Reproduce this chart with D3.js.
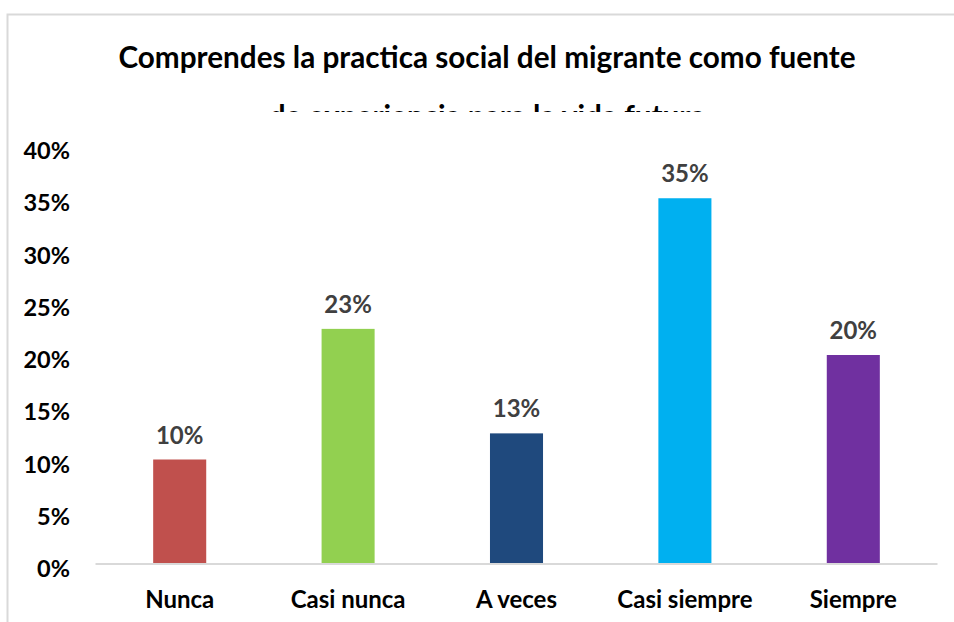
<!DOCTYPE html>
<html lang="es">
<head>
  <meta charset="UTF-8">
  <title>Comprendes la practica social del migrante</title>
  <style>
    html,
    body {
      margin: 0;
      padding: 0;
      background: #fff;
    }

    svg text {
      font-family: Lato, "Open Sans", sans-serif;
      font-weight: bold;
    }
  </style>
</head>
<body>
<div id="chart"></div>

<script src="https://d3js.org/d3.v7.min.js"></script>
<script>
  // values
  const categories = ['Nunca', 'Casi nunca', 'A veces', 'Casi siempre', 'Siempre'];
  const values = [0.10, 0.225, 0.125, 0.35, 0.20];
  const valueLabels = ['10%', '23%', '13%', '35%', '20%'];
  const barColors = ['#C0504D', '#92D050', '#1F497D', '#00B0F0', '#7030A0'];
  const yTicks = [0, 0.05, 0.10, 0.15, 0.20, 0.25, 0.30, 0.35, 0.40];
  const titleLines = [
    'Comprendes la practica social del migrante como fuente',
    'de experiencia para la vida futura'
  ];

  const width = 954;
  const height = 622;

  const svg = d3.select('#chart')
    .append('svg')
    .attr('width', width)
    .attr('height', height);

  // outer frame (only top and left edges are visible)
  svg.append('path')
    .attr('d', 'M7.5,622 V14.5 H954')
    .attr('fill', 'none')
    .attr('stroke', '#d9d9d9')
    .attr('stroke-width', 2);

  const x = d3.scaleBand()
    .domain(categories)
    .range([95.5, 937.5])
    .paddingInner(0.685)
    .paddingOuter(0.3425);

  const y = d3.scaleLinear()
    .domain([0, 0.40])
    .range([564, 146]);

  // title, second line cut off like in the original
  svg.append('clipPath')
    .attr('id', 'title-clip')
    .append('rect')
    .attr('x', 0)
    .attr('y', 0)
    .attr('width', width)
    .attr('height', 112);

  svg.append('g')
    .attr('clip-path', 'url(#title-clip)')
    .selectAll('text')
    .data(titleLines)
    .join('text')
    .attr('x', 487)
    .attr('y', (d, i) => 68 + i * 59)
    .attr('text-anchor', 'middle')
    .attr('font-size', 29.7)
    .attr('fill', '#000')
    .text(d => d);

  // y axis labels, no line
  const yAxis = d3.axisLeft(y)
    .tickValues(yTicks)
    .tickFormat(d3.format('.0%'))
    .tickSize(0)
    .tickPadding(0);

  svg.append('g')
    .attr('transform', 'translate(70,5)')
    .call(yAxis)
    .call(g => g.select('.domain').remove())
    .call(g => g.selectAll('text')
      .attr('font-size', 23.5)
      .attr('font-family', null)
      .attr('fill', '#000'));

  // bars
  svg.append('g')
    .selectAll('rect')
    .data(values)
    .join('rect')
    .attr('x', (d, i) => x(categories[i]))
    .attr('y', d => y(d))
    .attr('width', x.bandwidth())
    .attr('height', d => y(0) - y(d))
    .attr('fill', (d, i) => barColors[i]);

  // baseline
  svg.append('line')
    .attr('x1', 95.5)
    .attr('x2', 937.5)
    .attr('y1', y(0))
    .attr('y2', y(0))
    .attr('stroke', '#d9d9d9')
    .attr('stroke-width', 2);

  // value labels
  svg.append('g')
    .selectAll('text')
    .data(values)
    .join('text')
    .attr('x', (d, i) => x(categories[i]) + x.bandwidth() / 2)
    .attr('y', d => y(d) - 16)
    .attr('text-anchor', 'middle')
    .attr('font-size', 24)
    .attr('fill', '#404040')
    .text((d, i) => valueLabels[i]);

  // category labels
  const xAxis = d3.axisBottom(x)
    .tickSize(0)
    .tickPadding(0);

  svg.append('g')
    .attr('transform', `translate(0,${y(0)})`)
    .call(xAxis)
    .call(g => g.select('.domain').remove())
    .call(g => g.selectAll('text')
      .attr('dy', null)
      .attr('y', 44)
      .attr('font-size', 24)
      .attr('font-family', null)
      .attr('fill', '#000'));
</script>
</body>
</html>
